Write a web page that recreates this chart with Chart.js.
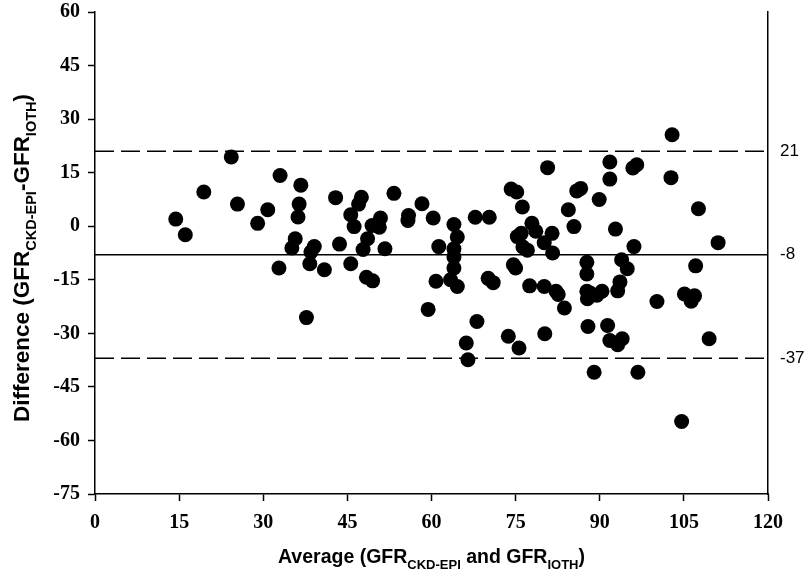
<!DOCTYPE html>
<html>
<head>
<meta charset="utf-8">
<script src="https://cdn.jsdelivr.net/npm/chart.js@4"></script>
<style>
  html, body { margin: 0; padding: 0; background: #ffffff; }
  #wrap { width: 805px; height: 582px; position: relative; }
</style>
</head>
<body>
<div id="wrap"><canvas id="baChart"></canvas></div>
<script>
// Bland-Altman: average of the two GFR estimates vs their difference
const avgValues = [
  14.4, 16.1, 19.4, 24.3, 25.4, 29.0, 30.8, 33.0, 32.8, 35.1,
  35.7, 36.2, 36.4, 36.7, 37.7, 38.5, 38.3, 39.1, 40.9, 42.9,
  43.6, 45.6, 45.6, 46.2, 47.0, 47.5, 47.8, 48.4, 48.6, 49.5,
  49.4, 50.7, 50.9, 51.7, 53.3, 55.8, 55.9, 58.3, 59.4, 60.3,
  60.8, 61.3, 63.4, 64.0, 64.0, 64.0, 64.0, 64.6, 64.6, 66.2,
  66.5, 67.8, 68.1, 70.3, 70.1, 71.0, 73.7, 74.2, 75.2, 74.6,
  75.0, 75.6, 76.0, 75.3, 76.2, 76.3, 77.1, 77.5, 77.9, 78.6,
  80.1, 80.1, 80.2, 80.7, 81.5, 81.6, 82.2, 82.6, 83.7, 84.4,
  85.4, 85.9, 86.6, 87.7, 87.7, 87.7, 87.8, 87.9, 88.3, 89.0,
  89.5, 89.9, 90.4, 91.4, 91.8, 91.8, 91.8, 92.8, 93.2, 93.2,
  93.6, 93.9, 94.0, 94.9, 95.9, 96.6, 96.1, 96.8, 100.2, 102.9,
  102.7, 104.6, 105.1, 106.3, 106.9, 107.1, 107.6, 109.5, 111.1
];
const diffValues = [
  2.0, -2.4, 9.6, 19.4, 6.2, 0.8, 4.6, 14.2, -11.7, -6.1,
  -3.5, 2.6, 6.2, 11.5, -25.6, -7.2, -10.5, -5.7, -12.2, 8.0,
  -5.0, -10.5, 3.2, -0.1, 6.2, 8.1, -6.5, -14.3, -3.5, -15.3,
  0.2, -0.3, 2.3, -6.3, 9.2, 1.6, 3.0, 6.3, -23.3, 2.3,
  -15.4, -5.7, -15.0, 0.5, -6.3, -8.6, -11.7, -3.0, -16.9, -32.7,
  -37.4, 2.5, -26.7, 2.5, -14.6, -15.8, -30.8, 10.4, 9.6, -10.8,
  -11.7, -34.1, -2.0, -2.9, 5.4, -5.8, -6.7, -16.7, 0.8, -1.4,
  -4.6, -16.9, -30.1, 16.4, -2.0, -7.5, -18.2, -19.1, -22.9, 4.6,
  -0.1, 9.9, 10.6, -10.1, -13.4, -18.2, -20.3, -28.1, -18.7, -40.9,
  -19.3, 7.5, -18.2, -27.8, 18.0, 13.2, -32.0, -0.8, -18.1, -33.2,
  -15.6, -9.4, -31.5, -11.9, 16.3, 17.2, -5.7, -40.9, -21.1, 25.6,
  13.6, -54.7, -19.0, -21.0, -19.5, -11.1, 4.9, -31.5, -4.6
];

// mean difference and limits of agreement
const meanDiff = -8;
const upperLimit = 21;
const lowerLimit = -37;
const refLevels = [upperLimit, meanDiff, lowerLimit];

const xRange = [0, 120];
const yRange = [-75, 60];
const tickStep = 15;

const points = avgValues.map((a, i) => ({ x: a, y: diffValues[i] }));
const hLine = v => xRange.map(x => ({ x: x, y: v }));

// axis titles carry subscripts, so they are drawn by hand
function drawRich(ctx, parts, x, y, size, subSize) {
  const main = 'bold ' + size + 'px "Liberation Sans", Arial, sans-serif';
  const sub = 'bold ' + subSize + 'px "Liberation Sans", Arial, sans-serif';
  let total = 0;
  parts.forEach(p => {
    ctx.font = p.sub ? sub : main;
    p.w = ctx.measureText(p.t).width;
    total += p.w;
  });
  let cx = x - total / 2;
  ctx.textBaseline = 'alphabetic';
  ctx.textAlign = 'left';
  parts.forEach(p => {
    ctx.font = p.sub ? sub : main;
    ctx.fillText(p.t, cx, p.sub ? y + size * 0.3 : y);
    cx += p.w;
  });
}

const axisTitles = {
  id: 'axisTitles',
  afterDraw(chart) {
    const ctx = chart.ctx;
    const area = chart.chartArea;
    ctx.save();
    ctx.fillStyle = '#000';
    drawRich(ctx, [
      { t: 'Average (GFR' }, { t: 'CKD-EPI', sub: true },
      { t: ' and GFR' }, { t: 'IOTH', sub: true }, { t: ')' }
    ], (area.left + area.right) / 2, 563, 19.5, 13);
    ctx.translate(29, (area.top + area.bottom) / 2 + 5);
    ctx.rotate(-Math.PI / 2);
    drawRich(ctx, [
      { t: 'Difference (GFR' }, { t: 'CKD-EPI', sub: true },
      { t: '-GFR' }, { t: 'IOTH', sub: true }, { t: ')' }
    ], 0, 0, 22.5, 14.5);
    ctx.restore();
  }
};

const tickFont = { family: '"Liberation Serif", "Times New Roman", serif', weight: 'bold', size: 20 };

// vertical scales: fixed width, no extra room for overhanging labels
const fixVertical = w => s => {
  s.width = w;
  s.paddingTop = 0;
  s.paddingBottom = 0;
};

new Chart(document.getElementById('baChart'), {
  type: 'scatter',
  data: {
    datasets: [
      {
        data: points,
        backgroundColor: '#000',
        borderColor: '#000',
        borderWidth: 0,
        pointRadius: 7.5,
        pointHoverRadius: 7.5,
        order: 1
      },
      {
        type: 'line',
        data: hLine(upperLimit),
        borderColor: '#000',
        borderWidth: 1.5,
        borderDash: [19, 7],
        pointRadius: 0,
        order: 2
      },
      {
        type: 'line',
        data: hLine(meanDiff),
        borderColor: '#000',
        borderWidth: 1.5,
        pointRadius: 0,
        order: 2
      },
      {
        type: 'line',
        data: hLine(lowerLimit),
        borderColor: '#000',
        borderWidth: 1.5,
        borderDash: [19, 7],
        pointRadius: 0,
        order: 2
      }
    ]
  },
  options: {
    responsive: true,
    maintainAspectRatio: false,
    animation: false,
    layout: { padding: { top: 12, left: 0, right: 0, bottom: 0 } },
    plugins: { legend: { display: false }, tooltip: { enabled: false } },
    scales: {
      x: {
        type: 'linear',
        min: xRange[0],
        max: xRange[1],
        ticks: { stepSize: tickStep, color: '#000', font: tickFont, padding: 10, maxRotation: 0 },
        grid: { drawOnChartArea: false, drawTicks: true, tickLength: 7, tickColor: '#000', tickWidth: 1.5 },
        border: { color: '#000', width: 1.5 },
        afterFit: s => { s.height = 88; }
      },
      y: {
        type: 'linear',
        position: 'left',
        min: yRange[0],
        max: yRange[1],
        ticks: { stepSize: tickStep, color: '#000', font: tickFont, padding: 8 },
        grid: { drawOnChartArea: false, drawTicks: true, tickLength: 7, tickColor: '#000', tickWidth: 1.5 },
        border: { color: '#000', width: 1.5 },
        afterFit: fixVertical(95)
      },
      y2: {
        type: 'linear',
        position: 'right',
        min: yRange[0],
        max: yRange[1],
        afterBuildTicks: s => { s.ticks = refLevels.map(v => ({ value: v })); },
        ticks: { color: '#000', font: { family: '"Liberation Sans", Arial, sans-serif', size: 17 }, padding: 12 },
        grid: { drawOnChartArea: false, drawTicks: false },
        border: { color: '#000', width: 1.5 },
        afterFit: fixVertical(37)
      }
    }
  },
  plugins: [axisTitles]
});
</script>
</body>
</html>
